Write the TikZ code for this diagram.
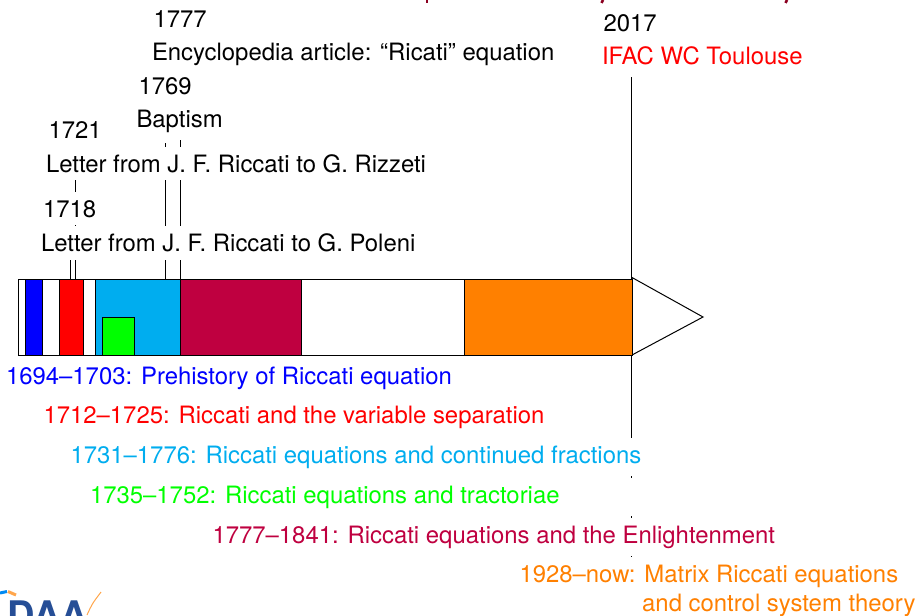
\documentclass[tikz,border=0pt]{standalone}
\usepackage{fontspec}
\setmainfont{TeX Gyre Heros}
\usepackage{xcolor}
\usetikzlibrary{backgrounds}
\definecolor{periodcyan}{RGB}{0,173,239}
\definecolor{periodwine}{RGB}{191,0,64}
\definecolor{periodorange}{RGB}{255,128,0}
\definecolor{titlewine}{RGB}{139,0,32}
\definecolor{logoblue}{RGB}{38,78,150}
\begin{document}
\begin{tikzpicture}[
        x=1pt, y=-1pt,
        label/.style={anchor=base west, fill=white, inner sep=7.8pt, font=\fontsize{23.9}{29}\selectfont},
        period/.style={label, align=left},
        segment/.style={draw, line width=1pt},
        tick/.style={line width=1pt}
    ]
        \useasboundingbox (0,0) rectangle (917,615);

        % time axis
        \draw[segment, fill=white] (18,279) rectangle (632,355);
        \draw[segment, fill=white] (632,277.5) -- (703,317) -- (632,355) -- cycle;
        \draw[segment, fill=blue] (25,279) rectangle (42.5,355);
        \draw[segment, fill=red] (59.5,279) rectangle (83.5,355);
        \draw[segment, fill=periodcyan] (95,279) rectangle (180,355);
        \draw[segment, fill=green] (102.5,317) rectangle (134.5,355);
        \draw[segment, fill=periodwine] (180.5,279) rectangle (301,355);
        \draw[segment, fill=periodorange] (464.5,279) rectangle (632,355);

        \coordinate (t1718) at (70,279);
        \coordinate (t1721) at (75.5,279);
        \coordinate (t1769) at (165.5,279);
        \coordinate (t1777) at (180.5,279);
        \coordinate (t2017) at (631.5,279);

        % events
        \node[label] (poleni) at (33,251.7) {Letter from J. F. Riccati to G. Poleni};
        \node[label] (y1718) at (35,217) {1718};
        \node[label] (rizzeti) at (38,172.2) {Letter from J. F. Riccati to G. Rizzeti};
        \node[label] (y1721) at (40.5,138.2) {1721};
        \node[label] (baptism) at (128.5,127) {Baptism};
        \node[label] (y1769) at (130.5,94.3) {1769};
        \node[label] (encyc) at (144,61) {Encyclopedia article: “Ricati” equation};
        \node[label] (y1777) at (145.5,27.4) {1777};
        \node[label] (y2017) at (595.5,31.3) {2017};
        \node[label, text=red] (ifac) at (594,65) {IFAC WC Toulouse};

        % periods
        \node[period, text=blue] (p1694) at (-2,384) {1694--1703: Prehistory of Riccati equation};
        \node[period, text=red] (p1712) at (35.5,423.5) {1712--1725: Riccati and the variable separation};
        \node[period, text=periodcyan] (p1731) at (62.5,463.3) {1731--1776: Riccati equations and continued fractions};
        \node[period, text=green, text width=560pt, align=flush left] (p1735) at (82,503.3) {1735--1752: Riccati equations and tractoriae};
        \node[period, text=periodwine] (p1777) at (204.5,543.3) {1777--1841: Riccati equations and the Enlightenment};
        \node[period, text=periodorange] (p1928) at (511.5,611.5) {1928--now: Matrix Riccati equations\\\hspace*{122.7pt}and control system theory};

        \begin{scope}[on background layer]
            \draw[tick] (t1718) -- (poleni.south -| t1718);
            \draw[tick, shorten >=2.5pt] (t1721) -- (y1721.south -| t1721);
            \draw[tick, shorten >=2.7pt] (t1769) -- (baptism.south -| t1769);
            \draw[tick] (t1777) -- (encyc.south -| t1777);
            \draw[tick, shorten <=4pt] (ifac.south -| t2017) -- (p1928.north -| t2017);
        \end{scope}

        % cut off at the top of the page
        \begin{scope}
            \clip (0,0) rectangle (917,615);
            \draw[titlewine, line width=2pt] (427,0) -- (427,3);
            \draw[titlewine, line width=2.5pt] (603,0) -- (601.5,3);
            \draw[titlewine, line width=2.5pt] (787,0) -- (785.5,3);

            % logo, cut off at the bottom
            \node[anchor=base west, inner sep=0pt, text=logoblue, font=\bfseries\fontsize{38}{38}\selectfont] (logo) at (7,628) {DAA};
            \draw[periodcyan!80!blue, line width=3pt] (0,593) -- (7,591.5);
            \draw[periodorange!70, line width=3pt] (8,591.5) -- (16,595);
            \draw[periodorange!70, line width=1pt] (87,615) .. controls (92,604) .. (101,592);
        \end{scope}
    \end{tikzpicture}
\end{document}
